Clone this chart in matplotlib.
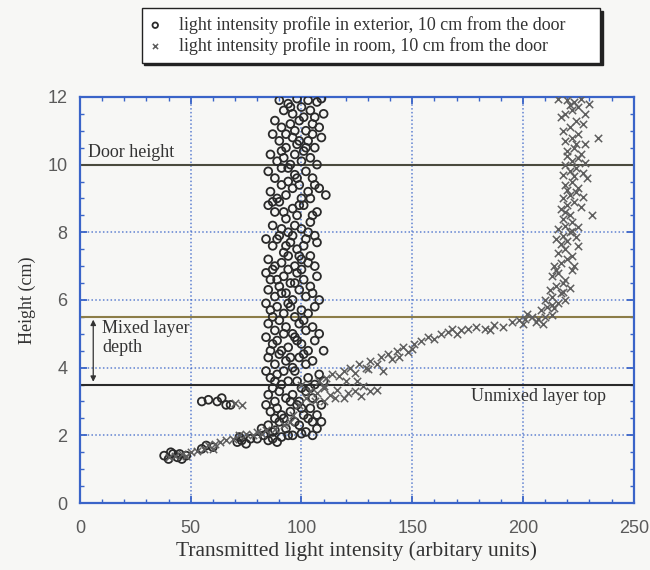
import matplotlib.pyplot as plt
from matplotlib.ticker import MultipleLocator

# exterior profile (circles)
ext_x = [90, 94, 98, 103, 107, 109, 92, 96, 100, 104, 106, 88, 91, 95, 99, 102, 105, 108, 110,
         87, 90, 93, 96, 98, 101, 103, 106, 109, 86, 89, 92, 95, 97, 100, 104, 107,
         85, 88, 91, 94, 97, 99, 102, 105, 108, 86, 89, 93, 96, 100, 103, 106, 111,
         85, 88, 90, 93, 96, 98, 101, 104, 107, 87, 91, 94, 97, 100, 103, 106,
         84, 87, 90, 92, 95, 98, 101, 104, 107, 85, 88, 91, 94, 97, 100, 103, 106,
         84, 87, 89, 92, 95, 98, 101, 104, 107, 85, 88, 90, 93, 96, 99, 102, 105, 108,
         84, 86, 89, 92, 94, 97, 100, 103, 106, 85, 88, 90, 93, 96, 99, 102, 105, 108,
         84, 87, 89, 91, 94, 97, 100, 103, 106, 110, 85, 88, 90, 93, 96, 99, 102, 105,
         84, 86, 89, 91, 94, 97, 100, 103, 106, 108, 85, 88, 90, 93, 96, 99, 102, 105,
         84, 86, 89, 92, 95, 98, 101, 104, 107, 109, 85, 87, 90, 93, 96, 99, 102, 105, 107,
         80, 83, 85, 87, 89, 91, 82, 88,
         95, 101, 97, 93, 105, 99, 91, 102, 94, 98, 91, 104, 87, 99, 92, 105, 89, 96, 102, 93,
         99, 86, 94, 100, 91, 97, 87, 95, 101, 92, 98, 86, 95, 101, 88, 92, 98, 104, 87, 95,
         100, 91, 97, 103, 88, 94, 100, 105, 110, 109,
         38, 40, 42, 44, 46, 48, 41, 45, 55, 57, 60, 55, 58, 62, 64, 66, 68, 71, 73, 75, 72, 77]
ext_y = [11.9, 11.8, 11.95, 11.9, 11.85, 11.95, 11.6, 11.5, 11.7, 11.6, 11.4, 11.3, 11.1, 11.2, 11.3, 11.0, 11.2, 11.1, 11.5,
         10.9, 10.7, 10.5, 10.8, 10.6, 10.4, 10.7, 10.5, 10.8, 10.3, 10.1, 10.2, 10.0, 10.3, 10.1, 10.2, 10.0,
         9.8, 9.6, 9.9, 9.5, 9.7, 9.4, 9.8, 9.6, 9.3, 9.2, 9.0, 9.1, 9.3, 9.0, 9.2, 9.4, 9.1,
         8.8, 8.6, 8.9, 8.4, 8.7, 8.5, 8.8, 8.3, 8.6, 8.2, 8.1, 8.0, 8.2, 8.1, 8.0, 7.9,
         7.8, 7.6, 7.9, 7.4, 7.7, 7.5, 7.6, 7.3, 7.7, 7.2, 7.0, 7.1, 7.3, 7.0, 7.2, 7.1, 7.0,
         6.8, 6.9, 6.6, 6.7, 6.5, 6.8, 6.6, 6.4, 6.7, 6.3, 6.1, 6.4, 6.2, 6.0, 6.3, 6.1, 6.2, 6.0,
         5.9, 5.7, 5.8, 5.6, 5.9, 5.5, 5.7, 5.6, 5.8, 5.3, 5.1, 5.4, 5.2, 5.0, 5.3, 5.1, 5.2, 5.0,
         4.9, 4.7, 4.8, 4.5, 4.6, 4.9, 4.7, 4.5, 4.8, 4.5, 4.3, 4.1, 4.4, 4.2, 4.0, 4.3, 4.1, 4.2,
         3.9, 3.7, 3.8, 3.5, 3.6, 3.9, 3.4, 3.7, 3.5, 3.8, 3.2, 3.0, 3.3, 3.1, 3.2, 3.0, 3.3, 3.1,
         2.9, 2.7, 2.8, 2.5, 2.7, 2.9, 2.6, 2.8, 2.6, 2.9, 2.3, 2.1, 2.4, 2.2, 2.0, 2.3, 2.1, 2.4, 2.2,
         1.9, 2.0, 1.85, 1.9, 1.8, 1.95, 2.2, 2.15,
         11.7, 11.4, 11.0, 10.9, 10.9, 10.7, 10.4, 10.5, 9.9, 9.6, 9.4, 9.0, 8.9, 8.8, 8.6, 8.5, 7.8, 7.9, 7.8, 7.6,
         7.3, 6.6, 6.9, 6.9, 6.2, 6.5, 5.5, 5.8, 5.4, 5.0, 4.8, 4.5, 4.3, 4.4, 3.6, 3.9, 3.6, 3.4, 3.4, 3.0,
         2.8, 2.6, 2.4, 2.5, 2.5, 2.0, 2.05, 2.0, 3.6, 2.4,
         1.4, 1.3, 1.45, 1.35, 1.3, 1.4, 1.5, 1.45, 1.6, 1.7, 1.65, 3.0, 3.05, 3.0, 3.1, 2.9, 2.9, 1.8, 1.85, 1.75, 1.95, 1.9]

# room profile (crosses)
room_x = [40, 43, 46, 50, 53, 56, 58, 61, 63, 66, 69, 72, 75, 78, 70, 73, 80, 84, 88, 92,
          96, 99, 102, 104, 107, 110, 113, 116, 119, 121, 124, 127, 131, 134, 110, 100,
          108, 111, 114, 117, 119, 122, 124, 126, 129, 131, 134, 136, 139, 141, 143, 146, 148, 151, 125, 137,
          154, 157, 160, 163, 166, 170, 172, 175, 179, 183, 187, 191, 195, 198, 201, 204, 207, 210, 213, 202, 206,
          208, 211, 214, 216, 210, 213, 217, 219, 212, 215, 218, 221,
          213, 216, 219, 222, 214, 217, 220, 223, 216, 219, 222, 225,
          215, 218, 221, 224, 216, 219, 222, 225, 218, 221, 231,
          217, 220, 223, 226, 218, 221, 224, 227, 219, 222, 225, 229,
          218, 221, 224, 227, 219, 222, 225, 228, 220, 223, 226, 234,
          219, 222, 225, 228, 218, 221, 224, 227, 219, 222, 225, 228, 220, 223, 226, 216, 230,
          217, 221, 224, 220, 223, 220, 219, 222, 217, 220, 215, 218, 213, 209, 200, 185, 168, 150, 144, 130,
          120, 115, 106, 128, 110, 60, 48, 82, 95]
room_y = [1.35, 1.4, 1.45, 1.5, 1.55, 1.6, 1.7, 1.75, 1.8, 1.85, 1.9, 2.0, 2.05, 2.0, 2.95, 2.9, 2.1, 2.15, 2.2, 2.3,
          2.6, 2.9, 3.1, 3.3, 3.25, 3.4, 3.2, 3.35, 3.1, 3.25, 3.3, 3.15, 3.3, 3.35, 3.0, 3.5,
          3.6, 3.7, 3.8, 3.75, 3.9, 4.0, 3.85, 4.1, 4.0, 4.2, 4.1, 4.3, 4.4, 4.25, 4.5, 4.6, 4.45, 4.7, 3.6, 3.9,
          4.8, 4.9, 4.85, 5.0, 5.05, 5.0, 5.1, 5.15, 5.2, 5.15, 5.25, 5.2, 5.35, 5.4, 5.45, 5.5, 5.45, 5.5, 5.55, 5.6, 5.35,
          5.7, 5.8, 5.75, 5.9, 6.0, 6.1, 6.2, 6.0, 6.3, 6.4, 6.5, 6.35,
          6.7, 6.8, 6.6, 6.9, 7.0, 7.1, 7.2, 7.0, 7.4, 7.5, 7.3, 7.6,
          7.8, 7.9, 8.0, 7.85, 8.1, 8.2, 8.3, 8.15, 8.4, 8.5, 8.5,
          8.7, 8.8, 8.9, 8.75, 9.0, 9.1, 9.2, 9.05, 9.4, 9.5, 9.3, 9.6,
          9.7, 9.8, 9.9, 9.75, 10.0, 10.1, 10.2, 10.05, 10.4, 10.5, 10.3, 10.8,
          10.7, 10.8, 10.9, 10.6, 11.0, 11.1, 11.3, 11.2, 11.5, 11.6, 11.7, 11.5, 11.9, 11.85, 11.95, 11.95, 11.8,
          11.4, 11.75, 10.6, 10.25, 9.65, 9.25, 8.6, 8.05, 7.65, 7.75, 6.9, 6.25, 5.85, 5.3, 5.3, 5.1, 5.15, 4.55, 4.3, 3.95,
          3.6, 3.1, 3.0, 3.45, 3.45, 1.6, 1.4, 2.05, 2.4]

ext_label = "light intensity profile in exterior, 10 cm from the door"
room_label = "light intensity profile in room, 10 cm from the door"

serif = "Liberation Serif"
sans = "Liberation Sans"
blue = "#3a64c8"

fig = plt.figure(figsize=(6.5, 5.7), dpi=100)
fig.patch.set_facecolor("#f7f7f5")
ax = fig.add_axes([0.123, 0.1175, 0.852, 0.7125])
ax.set_facecolor("#f7f7f5")

ax.set_xlim(0, 250)
ax.set_ylim(0, 12)

ax.grid(True, which="major", color=blue, linestyle=(0, (1, 1.5)), linewidth=1.1, alpha=0.8)
ax.set_axisbelow(True)

# reference lines
ax.axhline(10, color="#4a4a3e", lw=1.5, zorder=1)
ax.axhline(5.5, color="#8c7d48", lw=1.5, zorder=1)
ax.axhline(3.5, color="#2a2a2a", lw=1.5, zorder=1)

h_ext = ax.scatter(ext_x, ext_y, s=32, facecolors="none", edgecolors="#2a2a2a", linewidths=1.3, zorder=3)
h_room = ax.scatter(room_x, room_y, s=28, marker="x", color="#5e5e5e", linewidths=1.1, zorder=3)

ax.annotate("", xy=(6, 3.5), xytext=(6, 5.5),
            arrowprops=dict(arrowstyle="<|-|>", color="#333333", lw=0.9, mutation_scale=8))
ax.text(3.5, 10.1, "Door height", family=serif, fontsize=13, color="#333333", va="bottom")
ax.text(10.0, 5.4, "Mixed layer\ndepth", family=serif, fontsize=13, color="#333333",
        va="top", linespacing=1.1)
ax.text(207, 3.4, "Unmixed layer top", family=serif, fontsize=13, color="#333333",
        va="top", ha="center")

for s in ax.spines.values():
    s.set_color(blue)
    s.set_linewidth(1.6)

ax.xaxis.set_major_locator(MultipleLocator(50))
ax.xaxis.set_minor_locator(MultipleLocator(10))
ax.yaxis.set_major_locator(MultipleLocator(2))
ax.yaxis.set_minor_locator(MultipleLocator(0.5))
ax.tick_params(which="both", direction="in", color=blue, top=True, right=True)
ax.tick_params(which="major", length=5, width=1.3)
ax.tick_params(which="minor", length=3, width=1.0)
ax.tick_params(axis="x", which="major", pad=12, labelsize=13, labelcolor="#5a5a5a")
ax.tick_params(axis="y", which="major", pad=9, labelsize=13, labelcolor="#5a5a5a")
for lab in ax.get_xticklabels() + ax.get_yticklabels():
    lab.set_family(sans)

ax.set_xlabel("Transmitted light intensity (arbitary units)", family=serif, fontsize=15.5,
              color="#333333", labelpad=3)
ax.set_ylabel("Height (cm)", family=serif, fontsize=13, color="#333333", labelpad=8)

leg = fig.legend([h_ext, h_room], [ext_label, room_label],
                 loc="upper left", bbox_to_anchor=(0.218, 0.986, 0.705, 0.0), mode="expand",
                 borderaxespad=0.0,
                 prop={"family": serif, "size": 13}, frameon=True, fancybox=False,
                 shadow={"color": "#222222", "alpha": 1.0}, edgecolor="#222222",
                 handlelength=0.6, handletextpad=1.0, labelspacing=0.15, borderpad=0.45,
                 markerscale=0.7)
leg.get_frame().set_facecolor("white")
leg.get_frame().set_linewidth(1.0)
for t in leg.get_texts():
    t.set_color("#333333")

fig.savefig("out.png", dpi=100, facecolor=fig.get_facecolor())
